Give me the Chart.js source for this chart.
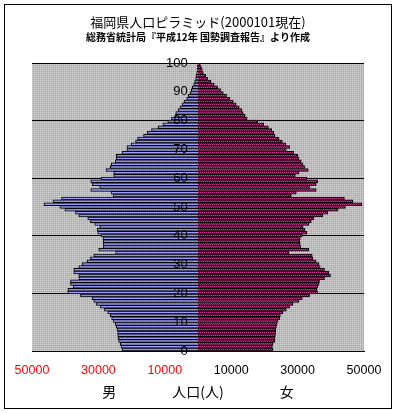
<!DOCTYPE html>
<html><head><meta charset="utf-8">
<script src="https://cdn.jsdelivr.net/npm/chart.js@4"></script>
<style>html,body{margin:0;padding:0;background:#fff;}#wrap{position:relative;width:397px;height:413px;}</style>
</head><body><div id="wrap"><canvas id="c" width="397" height="413"></canvas></div>
<script>
// ages listed from 100 (top) down to 0 (bottom)
const ages = [100,99,98,97,96,95,94,93,92,91,90,89,88,87,86,85,84,83,82,81,80,79,78,77,76,75,74,73,72,71,70,69,68,67,66,65,64,63,62,61,60,59,58,57,56,55,54,53,52,51,50,49,48,47,46,45,44,43,42,41,40,39,38,37,36,35,34,33,32,31,30,29,28,27,26,25,24,23,22,21,20,19,18,17,16,15,14,13,12,11,10,9,8,7,6,5,4,3,2,1,0];
const male = [150,200,300,400,600,700,1000,1300,1700,2000,2300,2900,3400,4200,4800,5400,6000,6700,6800,8000,
9100,10600,12000,14000,15300,16400,18200,18800,20100,21400,
21400,22900,24600,24600,24900,26100,26400,27700,25400,25400,
29200,32300,31800,29600,32300,26200,25600,41100,43700,46400,
41600,40100,36900,35900,33200,32400,31100,29600,30400,30200,
29200,28600,28600,28600,28500,29900,24800,31400,32400,33400,
34900,35900,37400,37400,35900,35900,38400,38400,37600,39200,
39200,35400,31900,31400,30600,29400,28200,27200,26400,26000,
25600,24900,24600,24400,24200,24200,24000,23900,23400,23200,22900];
const female = [700,1000,1300,1600,2300,2900,3900,4900,5900,6800,7600,8600,9600,10600,11500,12400,13200,13600,14200,14800,
18000,19800,21200,22200,22800,23200,24400,25400,26400,27600,
26600,28800,30100,30400,31100,31600,32100,33200,30400,29300,
32800,36100,35600,33600,35600,29600,28100,44100,46600,49400,
44400,42200,39100,37600,34900,34100,33400,31600,32200,32800,
31400,30800,30700,30800,30900,33400,27400,34400,34600,35600,
36400,36800,38100,39400,39900,38100,36600,36400,36100,35800,
36100,33600,31400,30400,28600,27600,26600,25600,24800,24600,
24100,23800,23600,23400,23400,23300,23200,23100,22600,22400,22600];
const titleText = '福岡県人口ピラミッド(2000101現在)';
const subtitleText = '総務省統計局『平成12年 国勢調査報告』より作成';
const xTitleText = '男\u3000\u3000\u3000\u3000人口(人)\u3000\u3000\u3000\u3000女';

const CJK = "'Noto Sans CJK JP', sans-serif";
const LAT = "'Liberation Sans', Arial, sans-serif";

function makePattern(cols) {
  const c = document.createElement('canvas'); c.width = 2; c.height = 2;
  const g = c.getContext('2d');
  cols.forEach((col, i) => { g.fillStyle = col; g.fillRect(i % 2, Math.floor(i / 2), 1, 1); });
  return g.createPattern(c, 'repeat');
}
const grayPat = makePattern(['#d0d0d0', '#bdbdbd', '#bdbdbd', '#a8a8a8']);
const bluePat = makePattern(['#a4a4ff', '#9797fb', '#9797fb', '#8585f0']);
const plumPat = makePattern(['#c8398f', '#6a1040', '#6a1040', '#c8398f']);

const bgPlugin = {
  id: 'bg',
  beforeDraw(chart) {
    const {ctx, chartArea: a} = chart;
    ctx.save();
    ctx.fillStyle = '#fff';
    ctx.fillRect(0, 0, chart.width, chart.height);
    ctx.fillStyle = grayPat;
    ctx.fillRect(a.left, a.top, a.right - a.left, a.bottom - a.top);
    ctx.strokeStyle = '#000'; ctx.lineWidth = 1;
    ctx.strokeRect(4.5, 4.5, 387, 404);
    ctx.restore();
  }
};

const zeroPad = s => { s.width = 0; s.paddingTop = 0; s.paddingBottom = 0; s.paddingLeft = 0; s.paddingRight = 0; };

new Chart(document.getElementById('c'), {
  type: 'bar',
  data: {
    datasets: [
      {label: '男', data: ages.map((a, i) => ({x: -male[i], y: a})), backgroundColor: bluePat, borderColor: '#000', borderWidth: 1, grouped: false, categoryPercentage: 1, barPercentage: 1, yAxisID: 'y'},
      {label: '女', data: ages.map((a, i) => ({x: female[i], y: a})), backgroundColor: plumPat, borderColor: '#000', borderWidth: 1, grouped: false, categoryPercentage: 1, barPercentage: 1, yAxisID: 'y'}
    ]
  },
  options: {
    indexAxis: 'y', responsive: false, animation: false, devicePixelRatio: 1,
    layout: {padding: {left: 32, right: 33, top: 0, bottom: 0}},
    plugins: {
      legend: {display: false}, tooltip: {enabled: false},
      title: {display: true, text: titleText, color: '#000', font: {family: CJK, size: 13, weight: 'normal'}, padding: {top: 14, bottom: 0}},
      subtitle: {display: true, text: subtitleText, color: '#000', font: {family: CJK, size: 10, weight: 'bold'}, padding: {top: 2, bottom: 19.4}}
    },
    scales: {
      x: {
        type: 'linear', min: -50000, max: 50000, offset: false,
        ticks: {stepSize: 20000, callback: v => String(Math.abs(v)), color: c => (c.tick && c.tick.value < 0) ? '#ff0000' : '#000000', font: {family: LAT, size: 12.5}, padding: 12, maxRotation: 0, autoSkip: false},
        grid: {display: false, drawTicks: false},
        border: {display: true, color: '#000'},
        title: {display: true, text: xTitleText, color: '#000', font: {family: CJK, size: 14}, padding: {top: 4, bottom: 13}},
        afterFit: s => { s.height = 62; }
      },
      y: {type: 'linear', min: -0.5, max: 100.5, offset: false, display: false},
      yg: {
        type: 'linear', axis: 'y', min: 0, max: 100, position: 'left', offset: false,
        ticks: {display: false, stepSize: 10},
        grid: {offset: false, color: c => (c.tick && c.tick.value % 20 === 0) ? '#000' : 'rgba(0,0,0,0)', drawTicks: false},
        border: {display: false},
        afterFit: zeroPad
      },
      yl: {
        type: 'linear', axis: 'y', min: 0, max: 100, position: 'left', offset: false,
        ticks: {stepSize: 10, color: '#000', font: {family: LAT, size: 13}, mirror: true, crossAlign: 'far', padding: 134, autoSkip: false, z: 1},
        grid: {display: false, drawTicks: false, offset: false},
        border: {display: false},
        afterFit: zeroPad
      }
    }
  },
  plugins: [bgPlugin]
});
</script></body></html>
